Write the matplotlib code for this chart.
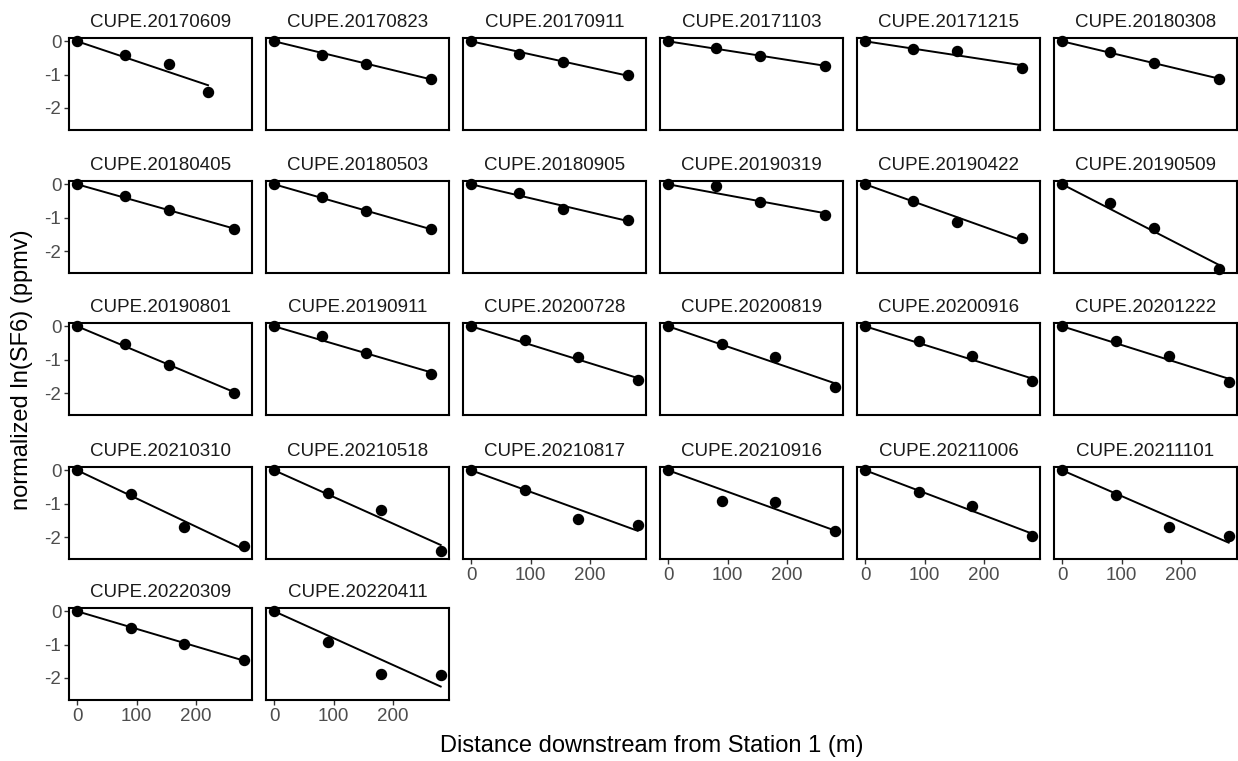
import numpy as np
import matplotlib
matplotlib.use("Agg")
import matplotlib.pyplot as plt

plt.rcParams['font.family'] = ['Liberation Sans', 'DejaVu Sans']
plt.rcParams['axes.unicode_minus'] = False

# sampling campaigns (facet labels)
panels = [
    "CUPE.20170609", "CUPE.20170823", "CUPE.20170911", "CUPE.20171103", "CUPE.20171215", "CUPE.20180308",
    "CUPE.20180405", "CUPE.20180503", "CUPE.20180905", "CUPE.20190319", "CUPE.20190422", "CUPE.20190509",
    "CUPE.20190801", "CUPE.20190911", "CUPE.20200728", "CUPE.20200819", "CUPE.20200916", "CUPE.20201222",
    "CUPE.20210310", "CUPE.20210518", "CUPE.20210817", "CUPE.20210916", "CUPE.20211006", "CUPE.20211101",
    "CUPE.20220309", "CUPE.20220411",
]

# station distances downstream (m)
dist_first = [0, 80, 155, 220]
dist_old = [0, 80, 155, 264]
dist_new = [0, 90, 180, 280]

distances = [dist_first] + [dist_old] * 13 + [dist_new] * 12

# normalized ln(SF6) at each station
ln_sf6 = [
    [0, -0.40, -0.68, -1.52],
    [0, -0.40, -0.68, -1.12],
    [0, -0.38, -0.63, -1.00],
    [0, -0.20, -0.45, -0.73],
    [0, -0.22, -0.28, -0.80],
    [0, -0.32, -0.65, -1.13],
    [0, -0.35, -0.77, -1.35],
    [0, -0.39, -0.80, -1.35],
    [0, -0.25, -0.73, -1.08],
    [0, -0.05, -0.53, -0.92],
    [0, -0.50, -1.12, -1.61],
    [0, -0.57, -1.32, -2.53],
    [0, -0.53, -1.15, -2.00],
    [0, -0.28, -0.80, -1.43],
    [0, -0.42, -0.93, -1.62],
    [0, -0.53, -0.93, -1.82],
    [0, -0.43, -0.90, -1.65],
    [0, -0.43, -0.88, -1.68],
    [0, -0.72, -1.71, -2.26],
    [0, -0.67, -1.20, -2.41],
    [0, -0.59, -1.45, -1.63],
    [0, -0.92, -0.95, -1.83],
    [0, -0.64, -1.07, -1.98],
    [0, -0.74, -1.70, -1.96],
    [0, -0.50, -0.98, -1.45],
    [0, -0.93, -1.87, -1.92],
]

x_ticks = [0, 100, 200]
y_ticks = [0, -1, -2]

W, H = 1238, 761
fig = plt.figure(figsize=(W / 100, H / 100), dpi=100)

ncol = 6
col_left = [69, 266, 463, 660, 857, 1054]
row_top = [38, 181, 323, 467, 608]
pw, ph = 183, 92
last_row = {}
for i in range(len(panels)):
    last_row[i % ncol] = i // ncol

for i, name in enumerate(panels):
    r, c = divmod(i, ncol)
    left = col_left[c] / W
    bottom = 1 - (row_top[r] + ph) / H
    ax = fig.add_axes([left, bottom, pw / W, ph / H])

    x = np.array(distances[i], dtype=float)
    y = np.array(ln_sf6[i], dtype=float)
    # linear fit forced through origin
    slope = np.sum(x * y) / np.sum(x * x)
    xl = np.array([x.min(), x.max()])
    ax.plot(xl, slope * xl, color='black', lw=1.4, zorder=2)
    ax.scatter(x, y, s=52, color='black', zorder=3, clip_on=False)

    ax.set_xlim(-14, 294)
    ax.set_ylim(-2.66, 0.1)
    ax.set_xticks(x_ticks)
    ax.set_yticks(y_ticks)
    for sp in ax.spines.values():
        sp.set_linewidth(1.5)
        sp.set_color('black')
    ax.tick_params(length=3.5, width=1.0, color='#333333', labelcolor='#4D4D4D',
                   labelsize=13.5, pad=2)

    ax.set_title(name, fontsize=13.5, color='#1A1A1A', pad=8)

    if c != 0:
        ax.tick_params(axis='y', left=False, labelleft=False)
    if r != last_row[c]:
        ax.tick_params(axis='x', bottom=False, labelbottom=False)

fig.text(652 / W, 1 - 746 / H, "Distance downstream from Station 1 (m)",
         ha='center', va='center', fontsize=17, color='black')
fig.text(22 / W, 1 - 370 / H, "normalized ln(SF6) (ppmv)", rotation=90,
         ha='center', va='center', fontsize=17, color='black')

fig.savefig("out.png", dpi=100, facecolor='white')
